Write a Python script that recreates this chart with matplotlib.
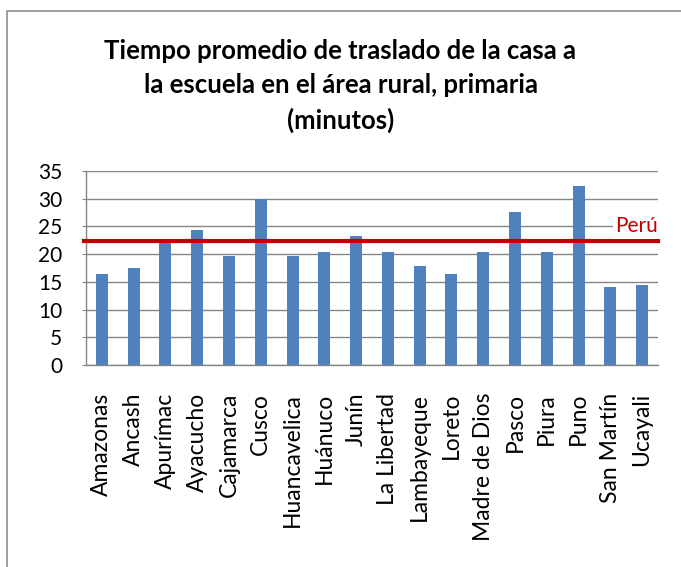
import numpy as np
from matplotlib import pyplot as plt
from matplotlib.patches import Rectangle

# Datos del grafico
regiones = ['Amazonas', 'Ancash', 'Apurímac', 'Ayacucho', 'Cajamarca', 'Cusco',
            'Huancavelica', 'Huánuco', 'Junín', 'La Libertad', 'Lambayeque',
            'Loreto', 'Madre de Dios', 'Pasco', 'Piura', 'Puno', 'San Martín',
            'Ucayali']
minutos = [16.4, 17.5, 22.0, 24.3, 19.7, 30.0, 19.7, 20.3, 23.2, 20.3, 17.8,
           16.4, 20.3, 27.6, 20.3, 32.3, 14.1, 14.5]
peru = 22.3
yticks = [0, 5, 10, 15, 20, 25, 30, 35]

plt.rcParams['font.family'] = ['Lato', 'DejaVu Sans']

fig = plt.figure(figsize=(6.81, 5.67), dpi=100)
# marco gris del grafico (solo se ven borde superior e izquierdo)
fig.patches.append(Rectangle((7/681, -0.1), 1.2, 1 - 11/567 + 0.1,
                             transform=fig.transFigure, fill=False,
                             edgecolor='#8c8c8c', linewidth=1.2))

ax = fig.add_axes([86/681, 1 - 365/567, (658 - 86)/681, (365 - 171)/567])
x = np.arange(len(regiones))
ax.bar(x, minutos, width=0.38, color='#4F81BD', zorder=2)
ax.axhline(peru, xmin=-0.004, xmax=1.0, color='#C00000', linewidth=3,
           zorder=3, clip_on=False)
ax.text(len(regiones) - 0.5, peru + 0.9, 'Perú', color='#C00000',
        fontsize=15, ha='right', va='bottom', zorder=4,
        bbox=dict(facecolor='white', edgecolor='none', pad=2))

ax.set_xlim(-0.5, len(regiones) - 0.5)
ax.set_ylim(0, 35)
ax.set_yticks(yticks)
ax.set_xticks(x)
ax.set_xticklabels(regiones, rotation=90, fontsize=16.5)
ax.tick_params(axis='y', labelsize=15, length=3, color='#868686', pad=14)
ax.tick_params(axis='x', length=0, pad=20)
ax.grid(axis='y', color='#868686', linewidth=1, zorder=1)
for s in ['top', 'right']:
    ax.spines[s].set_visible(False)
for s in ['left', 'bottom']:
    ax.spines[s].set_color('#868686')
    ax.spines[s].set_linewidth(1)

fig.text(0.5, 1 - 86/567,
         'Tiempo promedio de traslado de la casa a\n'
         'la escuela en el área rural, primaria\n(minutos)',
         ha='center', va='center', fontsize=18.5, fontweight='bold',
         linespacing=1.5)

fig.savefig('out.png', dpi=100)
